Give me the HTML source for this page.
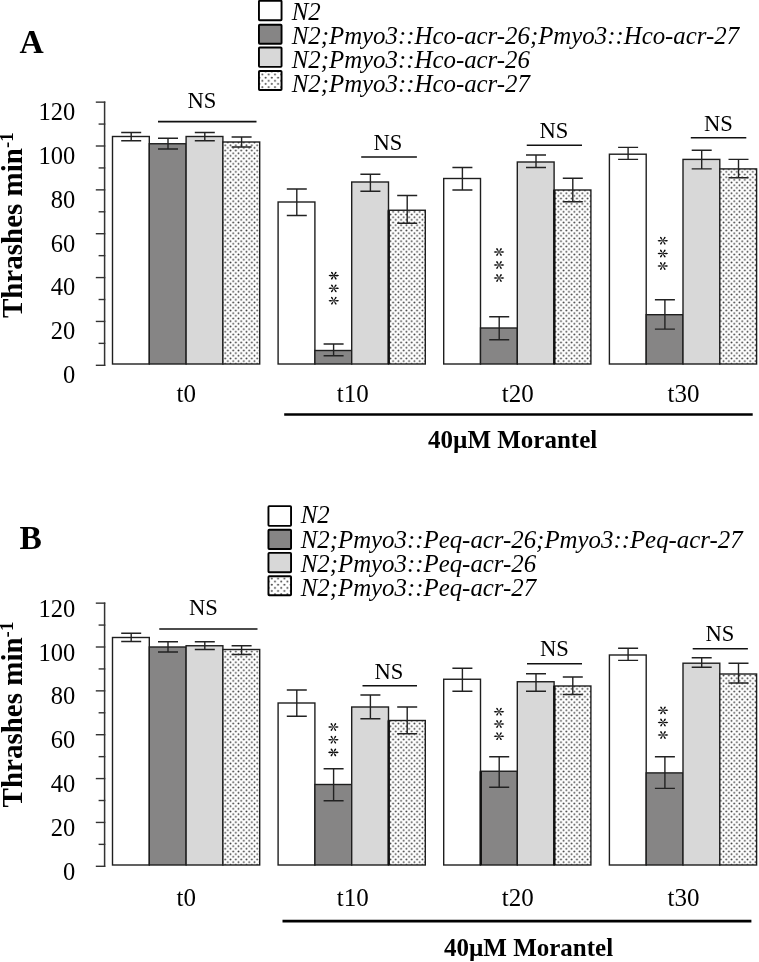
<!DOCTYPE html>
<html><head><meta charset="utf-8"><title>Figure</title>
<style>
html,body{margin:0;padding:0;background:#fff;}
body{width:759px;height:962px;overflow:hidden;font-family:"Liberation Serif",serif;}
svg{display:block;will-change:transform;}
svg text{font-family:"Liberation Serif",serif;fill:#000;}
</style></head><body>
<svg width="759" height="962" viewBox="0 0 759 962">
<defs>
<pattern id="dots" x="0" y="0" width="5.33" height="5.33" patternUnits="userSpaceOnUse">
<rect width="5.33" height="5.33" fill="#fff"/>
<circle cx="1.33" cy="1.33" r="0.92" fill="#3c3c3c"/>
<circle cx="4.0" cy="4.0" r="0.92" fill="#3c3c3c"/>
</pattern>
<pattern id="dotsL" x="1.1" y="1.0" width="6.26" height="6.26" patternUnits="userSpaceOnUse">
<rect width="6.26" height="6.26" fill="#fff"/>
<circle cx="1.56" cy="1.56" r="1.0" fill="#444"/>
<circle cx="4.69" cy="4.69" r="1.0" fill="#444"/>
</pattern>
<g id="ast" fill="#0a0a0a" stroke="none">
<path d="M-5.25 0 C-4.7 -1.05 -2.6 -0.95 -0.3 -0.3 L0.3 -0.3 C2.6 -0.95 4.7 -1.05 5.25 0 C4.7 1.05 2.6 0.95 0.3 0.3 L-0.3 0.3 C-2.6 0.95 -4.7 1.05 -5.25 0Z"/>
<path id="arm" d="M0.0 -0.35 C0.4 -1.5 0.75 -2.4 1.2 -3.3 C1.6 -4.05 2.65 -4.1 2.8 -3.35 C2.95 -2.65 2.3 -2.1 1.6 -1.45 C1.05 -0.95 0.6 -0.45 0.4 0Z"/>
<use href="#arm" transform="scale(-1,1)"/>
<use href="#arm" transform="scale(1,-1)"/>
<use href="#arm" transform="scale(-1,-1)"/>
</g>
</defs>
<rect width="759" height="962" fill="#fff"/>
<text x="19.6" y="52.5" font-size="33.5" font-weight="bold">A</text>
<rect x="258.95" y="0.70" width="22.6" height="19.60" rx="0.8" fill="#ffffff" stroke="#000" stroke-width="1.9"/>
<text x="291.7" y="20.10" font-size="24.85" font-style="italic">N2</text>
<rect x="258.95" y="24.80" width="22.6" height="18.90" rx="0.8" fill="#868585" stroke="#000" stroke-width="1.9"/>
<text x="291.7" y="43.50" font-size="24.85" font-style="italic">N2;Pmyo3::Hco-acr-26;Pmyo3::Hco-acr-27</text>
<rect x="258.95" y="47.45" width="22.6" height="19.40" rx="0.8" fill="#d8d8d8" stroke="#000" stroke-width="1.9"/>
<text x="291.7" y="68.10" font-size="24.85" font-style="italic">N2;Pmyo3::Hco-acr-26</text>
<rect x="258.95" y="70.95" width="22.6" height="19.00" rx="0.8" fill="url(#dotsL)" stroke="#000" stroke-width="1.9"/>
<text x="291.7" y="91.50" font-size="24.85" font-style="italic">N2;Pmyo3::Hco-acr-27</text>
<line x1="104.6" y1="101.44" x2="104.6" y2="366.00" stroke="#333" stroke-width="1.5"/>
<line x1="95.8" y1="365.30" x2="105.3" y2="365.30" stroke="#333" stroke-width="1.4"/>
<line x1="98.6" y1="343.37" x2="105.3" y2="343.37" stroke="#333" stroke-width="1.4"/>
<line x1="95.8" y1="321.44" x2="105.3" y2="321.44" stroke="#333" stroke-width="1.4"/>
<line x1="98.6" y1="299.51" x2="105.3" y2="299.51" stroke="#333" stroke-width="1.4"/>
<line x1="95.8" y1="277.58" x2="105.3" y2="277.58" stroke="#333" stroke-width="1.4"/>
<line x1="98.6" y1="255.65" x2="105.3" y2="255.65" stroke="#333" stroke-width="1.4"/>
<line x1="95.8" y1="233.72" x2="105.3" y2="233.72" stroke="#333" stroke-width="1.4"/>
<line x1="98.6" y1="211.79" x2="105.3" y2="211.79" stroke="#333" stroke-width="1.4"/>
<line x1="95.8" y1="189.86" x2="105.3" y2="189.86" stroke="#333" stroke-width="1.4"/>
<line x1="98.6" y1="167.93" x2="105.3" y2="167.93" stroke="#333" stroke-width="1.4"/>
<line x1="95.8" y1="146.00" x2="105.3" y2="146.00" stroke="#333" stroke-width="1.4"/>
<line x1="98.6" y1="124.07" x2="105.3" y2="124.07" stroke="#333" stroke-width="1.4"/>
<line x1="95.8" y1="102.14" x2="105.3" y2="102.14" stroke="#333" stroke-width="1.4"/>
<text x="75.2" y="383.20" font-size="24.5" text-anchor="end">0</text>
<text x="75.2" y="339.34" font-size="24.5" text-anchor="end">20</text>
<text x="75.2" y="295.48" font-size="24.5" text-anchor="end">40</text>
<text x="75.2" y="251.62" font-size="24.5" text-anchor="end">60</text>
<text x="75.2" y="207.76" font-size="24.5" text-anchor="end">80</text>
<text x="75.2" y="163.90" font-size="24.5" text-anchor="end">100</text>
<text x="75.2" y="120.04" font-size="24.5" text-anchor="end">120</text>
<text transform="translate(21.9,318.1) rotate(-90)" font-size="29" font-weight="bold">Thrashes min<tspan font-size="19" dy="-8.6">-1</tspan></text>
<rect x="112.50" y="136.50" width="36.8" height="227.50" fill="#ffffff" stroke="#1e1e1e" stroke-width="1.4"/>
<rect x="149.30" y="143.75" width="36.8" height="220.25" fill="#868585" stroke="#1e1e1e" stroke-width="1.4"/>
<rect x="186.10" y="136.50" width="36.8" height="227.50" fill="#d8d8d8" stroke="#1e1e1e" stroke-width="1.4"/>
<rect x="222.90" y="142.00" width="36.8" height="222.00" fill="url(#dots)" stroke="#1e1e1e" stroke-width="1.4"/>
<path d="M121.20 132.50H141.20M121.20 140.75H141.20M131.20 132.50V140.75" stroke="#222" stroke-width="1.4" fill="none"/>
<path d="M158.00 138.25H178.00M158.00 149.00H178.00M168.00 138.25V149.00" stroke="#222" stroke-width="1.4" fill="none"/>
<path d="M194.80 132.50H214.80M194.80 140.75H214.80M204.80 132.50V140.75" stroke="#222" stroke-width="1.4" fill="none"/>
<path d="M231.60 137.00H251.60M231.60 147.00H251.60M241.60 137.00V147.00" stroke="#222" stroke-width="1.4" fill="none"/>
<rect x="278.10" y="202.00" width="36.8" height="162.00" fill="#ffffff" stroke="#1e1e1e" stroke-width="1.4"/>
<rect x="314.90" y="350.50" width="36.8" height="13.50" fill="#868585" stroke="#1e1e1e" stroke-width="1.4"/>
<rect x="351.70" y="182.00" width="36.8" height="182.00" fill="#d8d8d8" stroke="#1e1e1e" stroke-width="1.4"/>
<rect x="388.50" y="210.25" width="36.8" height="153.75" fill="url(#dots)" stroke="#1e1e1e" stroke-width="1.4"/>
<path d="M286.80 189.00H306.80M286.80 215.50H306.80M296.80 189.00V215.50" stroke="#222" stroke-width="1.4" fill="none"/>
<path d="M323.60 344.00H343.60M323.60 355.75H343.60M333.60 344.00V355.75" stroke="#222" stroke-width="1.4" fill="none"/>
<path d="M360.40 174.25H380.40M360.40 191.25H380.40M370.40 174.25V191.25" stroke="#222" stroke-width="1.4" fill="none"/>
<path d="M397.20 195.50H417.20M397.20 223.25H417.20M407.20 195.50V223.25" stroke="#222" stroke-width="1.4" fill="none"/>
<rect x="443.70" y="178.50" width="36.8" height="185.50" fill="#ffffff" stroke="#1e1e1e" stroke-width="1.4"/>
<rect x="480.50" y="328.00" width="36.8" height="36.00" fill="#868585" stroke="#1e1e1e" stroke-width="1.4"/>
<rect x="517.30" y="162.00" width="36.8" height="202.00" fill="#d8d8d8" stroke="#1e1e1e" stroke-width="1.4"/>
<rect x="554.10" y="190.00" width="36.8" height="174.00" fill="url(#dots)" stroke="#1e1e1e" stroke-width="1.4"/>
<path d="M452.40 167.50H472.40M452.40 190.00H472.40M462.40 167.50V190.00" stroke="#222" stroke-width="1.4" fill="none"/>
<path d="M489.20 316.75H509.20M489.20 339.75H509.20M499.20 316.75V339.75" stroke="#222" stroke-width="1.4" fill="none"/>
<path d="M526.00 155.00H546.00M526.00 167.50H546.00M536.00 155.00V167.50" stroke="#222" stroke-width="1.4" fill="none"/>
<path d="M562.80 178.25H582.80M562.80 201.75H582.80M572.80 178.25V201.75" stroke="#222" stroke-width="1.4" fill="none"/>
<rect x="609.40" y="154.20" width="36.8" height="209.80" fill="#ffffff" stroke="#1e1e1e" stroke-width="1.4"/>
<rect x="646.20" y="314.70" width="36.8" height="49.30" fill="#868585" stroke="#1e1e1e" stroke-width="1.4"/>
<rect x="683.00" y="159.40" width="36.8" height="204.60" fill="#d8d8d8" stroke="#1e1e1e" stroke-width="1.4"/>
<rect x="719.80" y="168.90" width="36.8" height="195.10" fill="url(#dots)" stroke="#1e1e1e" stroke-width="1.4"/>
<path d="M618.10 147.40H638.10M618.10 159.40H638.10M628.10 147.40V159.40" stroke="#222" stroke-width="1.4" fill="none"/>
<path d="M654.90 299.80H674.90M654.90 329.10H674.90M664.90 299.80V329.10" stroke="#222" stroke-width="1.4" fill="none"/>
<path d="M691.70 150.20H711.70M691.70 168.90H711.70M701.70 150.20V168.90" stroke="#222" stroke-width="1.4" fill="none"/>
<path d="M728.50 159.40H748.50M728.50 177.80H748.50M738.50 159.40V177.80" stroke="#222" stroke-width="1.4" fill="none"/>
<line x1="388.80" y1="210.25" x2="388.80" y2="364.00" stroke="#111" stroke-width="2.3"/>
<line x1="554.40" y1="190.00" x2="554.40" y2="364.00" stroke="#111" stroke-width="2.3"/>
<text x="202" y="107.5" font-size="22.6" text-anchor="middle">NS</text>
<line x1="158" y1="121.6" x2="256.5" y2="121.6" stroke="#111" stroke-width="1.6"/>
<text x="387.9" y="149.9" font-size="22.6" text-anchor="middle">NS</text>
<line x1="361.2" y1="157" x2="416.9" y2="157" stroke="#111" stroke-width="1.6"/>
<text x="554" y="138.25" font-size="22.6" text-anchor="middle">NS</text>
<line x1="526.75" y1="145.3" x2="582" y2="145.3" stroke="#111" stroke-width="1.6"/>
<text x="718.4" y="130.7" font-size="22.6" text-anchor="middle">NS</text>
<line x1="690.8" y1="137.7" x2="746.3" y2="137.7" stroke="#111" stroke-width="1.6"/>
<use href="#ast" x="333.8" y="275.6"/>
<use href="#ast" x="333.8" y="288.3"/>
<use href="#ast" x="333.8" y="300.7"/>
<use href="#ast" x="499" y="252"/>
<use href="#ast" x="499" y="265"/>
<use href="#ast" x="499" y="278"/>
<use href="#ast" x="662.8" y="240.7"/>
<use href="#ast" x="662.8" y="253.5"/>
<use href="#ast" x="662.8" y="266"/>
<text x="186.3" y="401.8" font-size="25" text-anchor="middle">t0</text>
<text x="352.8" y="401.8" font-size="25" text-anchor="middle">t10</text>
<text x="517.8" y="401.8" font-size="25" text-anchor="middle">t20</text>
<text x="683.5" y="401.8" font-size="25" text-anchor="middle">t30</text>
<line x1="284.2" y1="414.5" x2="752.7" y2="414.5" stroke="#000" stroke-width="2.6"/>
<text x="428" y="448.1" font-size="25" font-weight="bold">40µM Morantel</text>
<text x="19.6" y="548.9" font-size="33.5" font-weight="bold">B</text>
<rect x="268.45" y="506.10" width="22.6" height="19.80" rx="0.8" fill="#ffffff" stroke="#000" stroke-width="1.9"/>
<text x="300.7" y="522.50" font-size="24.85" font-style="italic">N2</text>
<rect x="268.45" y="529.70" width="22.6" height="19.30" rx="0.8" fill="#868585" stroke="#000" stroke-width="1.9"/>
<text x="300.7" y="548.05" font-size="24.85" font-style="italic">N2;Pmyo3::Peq-acr-26;Pmyo3::Peq-acr-27</text>
<rect x="268.45" y="552.90" width="22.6" height="19.40" rx="0.8" fill="#d8d8d8" stroke="#000" stroke-width="1.9"/>
<text x="300.7" y="572.40" font-size="24.85" font-style="italic">N2;Pmyo3::Peq-acr-26</text>
<rect x="268.45" y="576.30" width="22.6" height="19.00" rx="0.8" fill="url(#dotsL)" stroke="#000" stroke-width="1.9"/>
<text x="300.7" y="596.10" font-size="24.85" font-style="italic">N2;Pmyo3::Peq-acr-27</text>
<line x1="104.6" y1="602.44" x2="104.6" y2="867.00" stroke="#333" stroke-width="1.5"/>
<line x1="95.8" y1="866.30" x2="105.3" y2="866.30" stroke="#333" stroke-width="1.4"/>
<line x1="98.6" y1="844.37" x2="105.3" y2="844.37" stroke="#333" stroke-width="1.4"/>
<line x1="95.8" y1="822.44" x2="105.3" y2="822.44" stroke="#333" stroke-width="1.4"/>
<line x1="98.6" y1="800.51" x2="105.3" y2="800.51" stroke="#333" stroke-width="1.4"/>
<line x1="95.8" y1="778.58" x2="105.3" y2="778.58" stroke="#333" stroke-width="1.4"/>
<line x1="98.6" y1="756.65" x2="105.3" y2="756.65" stroke="#333" stroke-width="1.4"/>
<line x1="95.8" y1="734.72" x2="105.3" y2="734.72" stroke="#333" stroke-width="1.4"/>
<line x1="98.6" y1="712.79" x2="105.3" y2="712.79" stroke="#333" stroke-width="1.4"/>
<line x1="95.8" y1="690.86" x2="105.3" y2="690.86" stroke="#333" stroke-width="1.4"/>
<line x1="98.6" y1="668.93" x2="105.3" y2="668.93" stroke="#333" stroke-width="1.4"/>
<line x1="95.8" y1="647.00" x2="105.3" y2="647.00" stroke="#333" stroke-width="1.4"/>
<line x1="98.6" y1="625.07" x2="105.3" y2="625.07" stroke="#333" stroke-width="1.4"/>
<line x1="95.8" y1="603.14" x2="105.3" y2="603.14" stroke="#333" stroke-width="1.4"/>
<text x="75.2" y="879.80" font-size="24.5" text-anchor="end">0</text>
<text x="75.2" y="835.94" font-size="24.5" text-anchor="end">20</text>
<text x="75.2" y="792.08" font-size="24.5" text-anchor="end">40</text>
<text x="75.2" y="748.22" font-size="24.5" text-anchor="end">60</text>
<text x="75.2" y="704.36" font-size="24.5" text-anchor="end">80</text>
<text x="75.2" y="660.50" font-size="24.5" text-anchor="end">100</text>
<text x="75.2" y="616.64" font-size="24.5" text-anchor="end">120</text>
<text transform="translate(21.9,807.4) rotate(-90)" font-size="29" font-weight="bold">Thrashes min<tspan font-size="19" dy="-8.6">-1</tspan></text>
<rect x="112.50" y="637.50" width="36.8" height="227.50" fill="#ffffff" stroke="#1e1e1e" stroke-width="1.4"/>
<rect x="149.30" y="647.00" width="36.8" height="218.00" fill="#868585" stroke="#1e1e1e" stroke-width="1.4"/>
<rect x="186.10" y="645.75" width="36.8" height="219.25" fill="#d8d8d8" stroke="#1e1e1e" stroke-width="1.4"/>
<rect x="222.90" y="649.50" width="36.8" height="215.50" fill="url(#dots)" stroke="#1e1e1e" stroke-width="1.4"/>
<path d="M121.20 633.25H141.20M121.20 641.50H141.20M131.20 633.25V641.50" stroke="#222" stroke-width="1.4" fill="none"/>
<path d="M158.00 641.75H178.00M158.00 652.00H178.00M168.00 641.75V652.00" stroke="#222" stroke-width="1.4" fill="none"/>
<path d="M194.80 641.75H214.80M194.80 649.50H214.80M204.80 641.75V649.50" stroke="#222" stroke-width="1.4" fill="none"/>
<path d="M231.60 645.75H251.60M231.60 654.50H251.60M241.60 645.75V654.50" stroke="#222" stroke-width="1.4" fill="none"/>
<rect x="278.10" y="703.00" width="36.8" height="162.00" fill="#ffffff" stroke="#1e1e1e" stroke-width="1.4"/>
<rect x="314.90" y="784.50" width="36.8" height="80.50" fill="#868585" stroke="#1e1e1e" stroke-width="1.4"/>
<rect x="351.70" y="707.00" width="36.8" height="158.00" fill="#d8d8d8" stroke="#1e1e1e" stroke-width="1.4"/>
<rect x="388.50" y="720.50" width="36.8" height="144.50" fill="url(#dots)" stroke="#1e1e1e" stroke-width="1.4"/>
<path d="M286.80 690.00H306.80M286.80 716.25H306.80M296.80 690.00V716.25" stroke="#222" stroke-width="1.4" fill="none"/>
<path d="M323.60 768.75H343.60M323.60 800.75H343.60M333.60 768.75V800.75" stroke="#222" stroke-width="1.4" fill="none"/>
<path d="M360.40 695.00H380.40M360.40 718.75H380.40M370.40 695.00V718.75" stroke="#222" stroke-width="1.4" fill="none"/>
<path d="M397.20 707.00H417.20M397.20 733.75H417.20M407.20 707.00V733.75" stroke="#222" stroke-width="1.4" fill="none"/>
<rect x="443.70" y="679.25" width="36.8" height="185.75" fill="#ffffff" stroke="#1e1e1e" stroke-width="1.4"/>
<rect x="480.50" y="771.25" width="36.8" height="93.75" fill="#868585" stroke="#1e1e1e" stroke-width="1.4"/>
<rect x="517.30" y="681.75" width="36.8" height="183.25" fill="#d8d8d8" stroke="#1e1e1e" stroke-width="1.4"/>
<rect x="554.10" y="686.00" width="36.8" height="179.00" fill="url(#dots)" stroke="#1e1e1e" stroke-width="1.4"/>
<path d="M452.40 668.25H472.40M452.40 691.25H472.40M462.40 668.25V691.25" stroke="#222" stroke-width="1.4" fill="none"/>
<path d="M489.20 756.75H509.20M489.20 787.25H509.20M499.20 756.75V787.25" stroke="#222" stroke-width="1.4" fill="none"/>
<path d="M526.00 673.75H546.00M526.00 691.25H546.00M536.00 673.75V691.25" stroke="#222" stroke-width="1.4" fill="none"/>
<path d="M562.80 677.00H582.80M562.80 694.50H582.80M572.80 677.00V694.50" stroke="#222" stroke-width="1.4" fill="none"/>
<rect x="609.40" y="655.00" width="36.8" height="210.00" fill="#ffffff" stroke="#1e1e1e" stroke-width="1.4"/>
<rect x="646.20" y="772.90" width="36.8" height="92.10" fill="#868585" stroke="#1e1e1e" stroke-width="1.4"/>
<rect x="683.00" y="663.20" width="36.8" height="201.80" fill="#d8d8d8" stroke="#1e1e1e" stroke-width="1.4"/>
<rect x="719.80" y="674.00" width="36.8" height="191.00" fill="url(#dots)" stroke="#1e1e1e" stroke-width="1.4"/>
<path d="M618.10 648.30H638.10M618.10 660.40H638.10M628.10 648.30V660.40" stroke="#222" stroke-width="1.4" fill="none"/>
<path d="M654.90 756.80H674.90M654.90 788.40H674.90M664.90 756.80V788.40" stroke="#222" stroke-width="1.4" fill="none"/>
<path d="M691.70 657.80H711.70M691.70 667.20H711.70M701.70 657.80V667.20" stroke="#222" stroke-width="1.4" fill="none"/>
<path d="M728.50 663.20H748.50M728.50 683.00H748.50M738.50 663.20V683.00" stroke="#222" stroke-width="1.4" fill="none"/>
<line x1="388.80" y1="720.50" x2="388.80" y2="865.00" stroke="#111" stroke-width="2.3"/>
<line x1="554.40" y1="686.00" x2="554.40" y2="865.00" stroke="#111" stroke-width="2.3"/>
<line x1="480.80" y1="771.25" x2="480.80" y2="865.00" stroke="#111" stroke-width="2.3"/>
<text x="203.4" y="615" font-size="22.6" text-anchor="middle">NS</text>
<line x1="159.25" y1="629" x2="257.5" y2="629" stroke="#111" stroke-width="1.6"/>
<text x="389" y="678.75" font-size="22.6" text-anchor="middle">NS</text>
<line x1="362.5" y1="685.75" x2="417" y2="685.75" stroke="#111" stroke-width="1.6"/>
<text x="554.4" y="656.25" font-size="22.6" text-anchor="middle">NS</text>
<line x1="527" y1="663.75" x2="582" y2="663.75" stroke="#111" stroke-width="1.6"/>
<text x="720" y="641.3" font-size="22.6" text-anchor="middle">NS</text>
<line x1="692.7" y1="648.8" x2="747.9" y2="648.8" stroke="#111" stroke-width="1.6"/>
<use href="#ast" x="333.4" y="727"/>
<use href="#ast" x="333.4" y="739.7"/>
<use href="#ast" x="333.4" y="752.4"/>
<use href="#ast" x="499" y="711.7"/>
<use href="#ast" x="499" y="724"/>
<use href="#ast" x="499" y="736.2"/>
<use href="#ast" x="663" y="710.3"/>
<use href="#ast" x="663" y="722.5"/>
<use href="#ast" x="663" y="735"/>
<text x="186.3" y="905.6" font-size="25" text-anchor="middle">t0</text>
<text x="352.8" y="905.6" font-size="25" text-anchor="middle">t10</text>
<text x="517.8" y="905.6" font-size="25" text-anchor="middle">t20</text>
<text x="683.5" y="905.6" font-size="25" text-anchor="middle">t30</text>
<line x1="282.5" y1="921.1" x2="751.4" y2="921.1" stroke="#000" stroke-width="2.6"/>
<text x="443.9" y="955.7" font-size="25" font-weight="bold">40µM Morantel</text>
</svg></body></html>
